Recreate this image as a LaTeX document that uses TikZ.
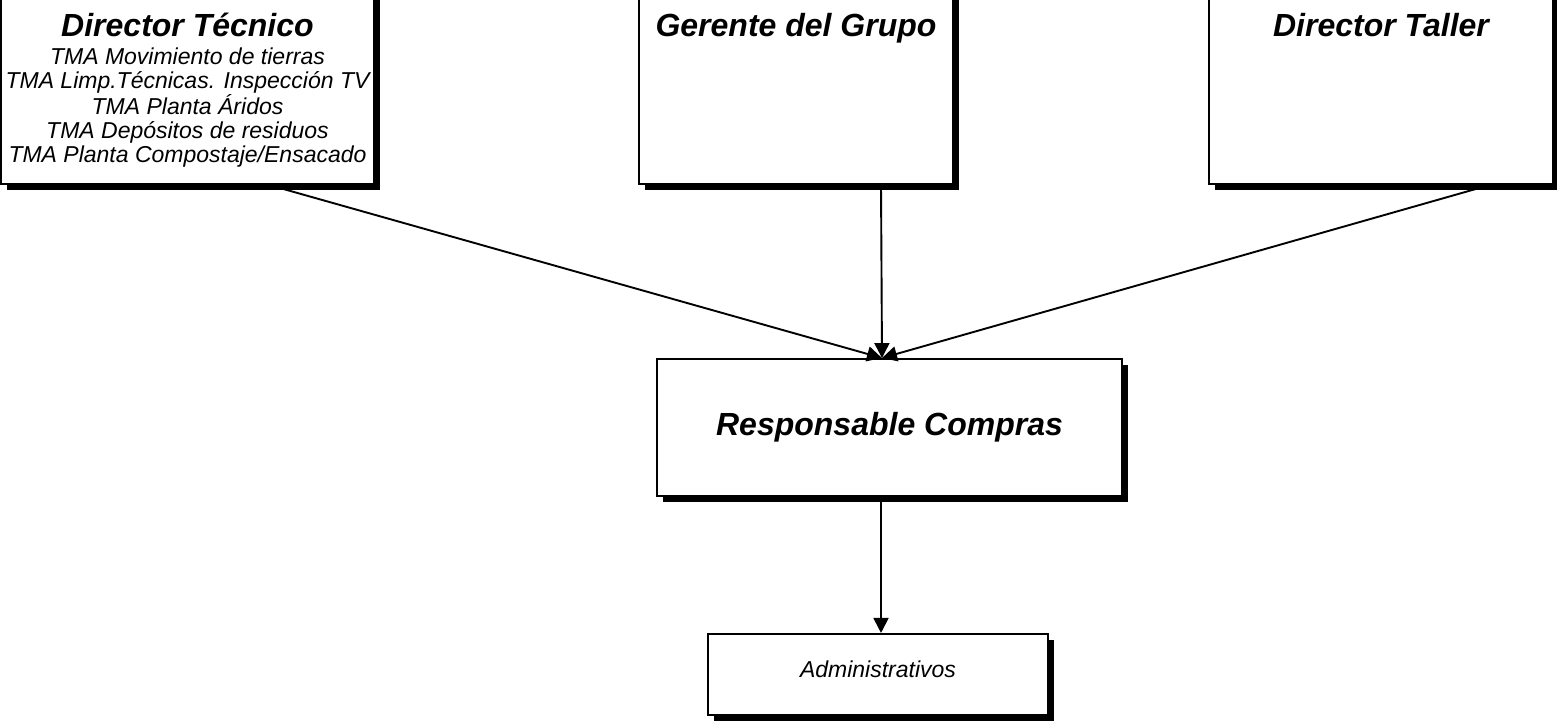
\documentclass[tikz,border=0pt]{standalone}
\usepackage{fontspec}
\setmainfont{Liberation Sans}
\usetikzlibrary{arrows,arrows.meta,shadows}
\usetikzlibrary{calc,positioning}

\begin{document}
\begin{tikzpicture}[x=1pt,y=-1pt,line width=1.9pt,-{Triangle[length=15pt,width=15pt]}]
    \tikzstyle{box}=[rectangle, draw, fill=white, inner sep=0pt, drop shadow={shadow xshift=6pt, shadow yshift=-6pt, fill=black, opacity=1}]
    \tikzstyle{head}=[inner sep=0pt, anchor=base, font=\fontsize{32}{38}\selectfont\bfseries\itshape]
    \tikzstyle{small}=[inner sep=0pt, anchor=north, align=center, font=\fontsize{23}{24}\selectfont\itshape]

    \useasboundingbox (0,0) rectangle (1557,725);

    \node[box, minimum width=373pt, minimum height=198pt] (dt)  at (187.5,85) {};
    \node[box, minimum width=314pt, minimum height=198pt] (gg)  at (796,85) {};
    \node[box, minimum width=344pt, minimum height=198pt] (dtl) at (1381,85) {};
    \node[box, minimum width=465pt, minimum height=137pt, font=\fontsize{32}{38}\selectfont\bfseries\itshape] (rc) at (889.5,427.5) {Responsable Compras};
    \node[box, minimum width=340pt, minimum height=81pt, font=\fontsize{23}{24}\selectfont\itshape, text depth=10pt] (ad) [below=136pt of rc, xshift=-11.5pt] {Administrativos};

    \node[head]  (dt-t)  at (187.5,37) {Director Técnico};
    \node[small] (dt-l)  at (187.5,47) {TMA Movimiento de tierras\\TMA Limp.Técnicas. Inspección TV\\TMA Planta Áridos\\TMA Depósitos de residuos\\TMA Planta Compostaje/Ensacado};
    \node[head]  (gg-t)  at (796,37) {Gerente del Grupo};
    \node[head]  (dtl-t) at (1381,37) {Director Taller};

    \coordinate (tip) at ([xshift=-7.5pt]rc.north);

    \path ([xshift=81.5pt]dt.south) edge (tip);
    \path ([xshift=85pt]gg.south) edge (tip);
    \path ([xshift=109pt]dtl.south) edge (tip);
    \path ([xshift=-8.5pt]rc.south) edge ([xshift=3pt]ad.north);

\end{tikzpicture}
\end{document}
